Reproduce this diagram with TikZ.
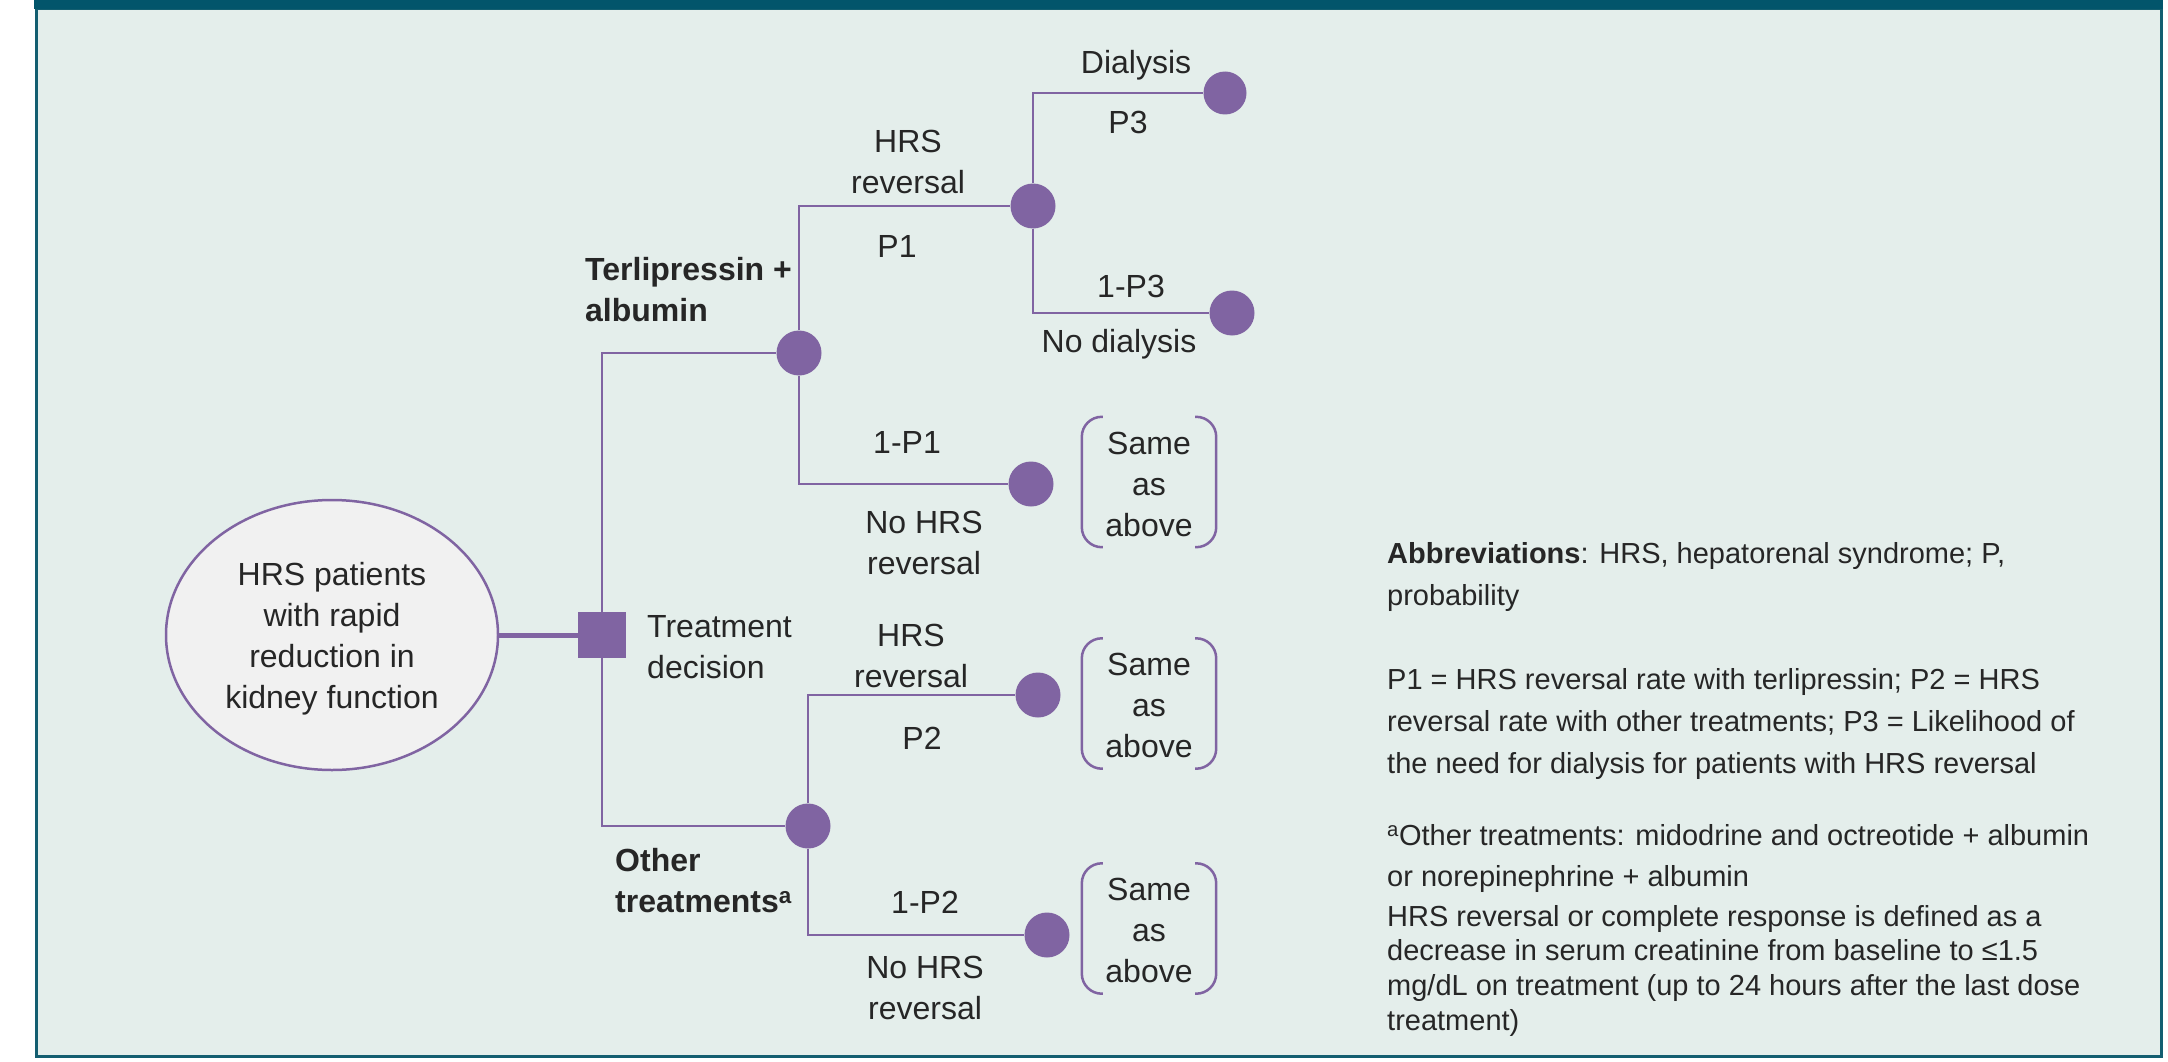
\documentclass[tikz,border=0pt]{standalone}
\usepackage{fontspec}
\setmainfont{Liberation Sans}
\usetikzlibrary{shapes.geometric}
\definecolor{pur}{HTML}{8064A2}
\definecolor{txt}{HTML}{262626}
\definecolor{panel}{HTML}{E4EEEB}
\definecolor{framec}{HTML}{135E70}
\definecolor{topbar}{HTML}{02556B}
\definecolor{rootfill}{HTML}{F1F1F1}
\begin{document}
\begin{tikzpicture}[x=1pt,y=-1pt,
  lbl/.style={font=\fontsize{32}{41}\selectfont, text=txt, align=center, inner sep=0pt},
  blbl/.style={lbl, font=\fontsize{32}{41}\selectfont\bfseries, align=left, anchor=west},
  note/.style={font=\fontsize{29}{42}\selectfont, text=txt, align=left, inner sep=0pt, anchor=north west},
  chance/.style={circle, fill=pur, minimum size=45pt, inner sep=0pt},
  branch/.style={draw=pur, line width=2.5pt},
  bracket/.style={draw=pur, line width=2.5pt, rounded corners=20pt},
  same/.style={lbl, minimum width=134pt, minimum height=130pt},
]
\useasboundingbox (0,0) rectangle (2168,1062);
\fill[white] (0,0) rectangle (2168,1062);
% panel
\filldraw[fill=panel, draw=framec, line width=3pt] (36,9) rectangle (2161,1056);
\fill[topbar] (34,0) rectangle (2163,9);

% root and decision
\node[ellipse, draw=pur, line width=2.5pt, fill=rootfill, minimum width=332pt, minimum height=270pt, inner sep=0pt] (root) at (332,635) {};
\node[lbl] (roottxt) at (332,639) {HRS patients\\with rapid\\reduction in\\kidney function};
\node[rectangle, fill=pur, minimum width=48pt, minimum height=46pt, inner sep=0pt] (dec) at (602,635) {};
\draw[pur, line width=5pt] (root.east) -- (dec.west);

% chance nodes
\node[chance] (cT) at (799,353) {};
\node[chance] (cHR) at (1033,206) {};
\node[chance, minimum size=43pt] (cD) at (1225,93) {};
\node[chance] (cND) at (1232,313) {};
\node[chance] (cNHR1) at (1031,484) {};
\node[chance] (cO) at (808,826) {};
\node[chance] (cHR2) at (1038,695) {};
\node[chance] (cNHR2) at (1047,935) {};

% connectors
\draw[branch] (dec) |- (cT);
\draw[branch] (dec) |- (cO);
\draw[branch] (cT) |- (cHR);
\draw[branch] (cT) |- (cNHR1);
\draw[branch] (cHR) |- (cD);
\draw[branch] (cHR) |- (cND);
\draw[branch] (cO) |- (cHR2);
\draw[branch] (cO) |- (cNHR2);

% labels
\node[lbl] (lDial) at (1136,65) {Dialysis};
\node[lbl] (lP3) at (1128,122) {P3};
\node[lbl] (lHR1) at (908,162) {HRS\\reversal};
\node[lbl] (lP1) at (897,246) {P1};
\node[blbl] (lTerl) at (585,290) {Terlipressin +\\albumin};
\node[lbl] (l1P3) at (1131,286) {1-P3};
\node[lbl] (lND) at (1119,344) {No dialysis};
\node[lbl] (l1P1) at (907,442) {1-P1};
\node[lbl] (lNHR1) at (924,543) {No HRS\\reversal};
\node[lbl, align=left, anchor=west] (lDec) at (647,647) {Treatment\\decision};
\node[lbl] (lHR2) at (911,656) {HRS\\reversal};
\node[lbl] (lP2) at (922,738) {P2};
\node[blbl] (lOther) at (615,881) {Other\\treatments\textsuperscript{a}};
\node[lbl] (l1P2) at (925,902) {1-P2};
\node[lbl] (lNHR2) at (925,988) {No HRS\\reversal};

% same as above boxes
\foreach \n/\y in {sa1/482, sa2/703.5, sa3/928.5}{
  \node[same] (\n) at (1149,\y) {};
  \node[lbl] at ([yshift=-2pt]\n.center) {Same\\as\\above};
  \draw[bracket] ([xshift=21pt]\n.north west) -- (\n.north west) -- (\n.south west) -- ([xshift=21pt]\n.south west);
  \draw[bracket] ([xshift=-21pt]\n.north east) -- (\n.north east) -- (\n.south east) -- ([xshift=-21pt]\n.south east);
}

% notes
\node[note] (n1) at (1387,542) {\textbf{Abbreviations}: HRS, hepatorenal syndrome; P,\\probability};
\node[note] (n2) at (1387,668) {P1 = HRS reversal rate with terlipressin; P2 = HRS\\reversal rate with other treatments; P3 = Likelihood of\\the need for dialysis for patients with HRS reversal};
\node[note, font=\fontsize{29}{41}\selectfont] (n3) at (1387,824) {\textsuperscript{a}Other treatments: midodrine and octreotide + albumin\\or norepinephrine + albumin};
\node[note, font=\fontsize{29}{34.7}\selectfont] (n4) at (1387,905) {HRS reversal or complete response is defined as a\\decrease in serum creatinine from baseline to ≤1.5\\mg/dL on treatment (up to 24 hours after the last dose\\treatment)};
\end{tikzpicture}
\end{document}
